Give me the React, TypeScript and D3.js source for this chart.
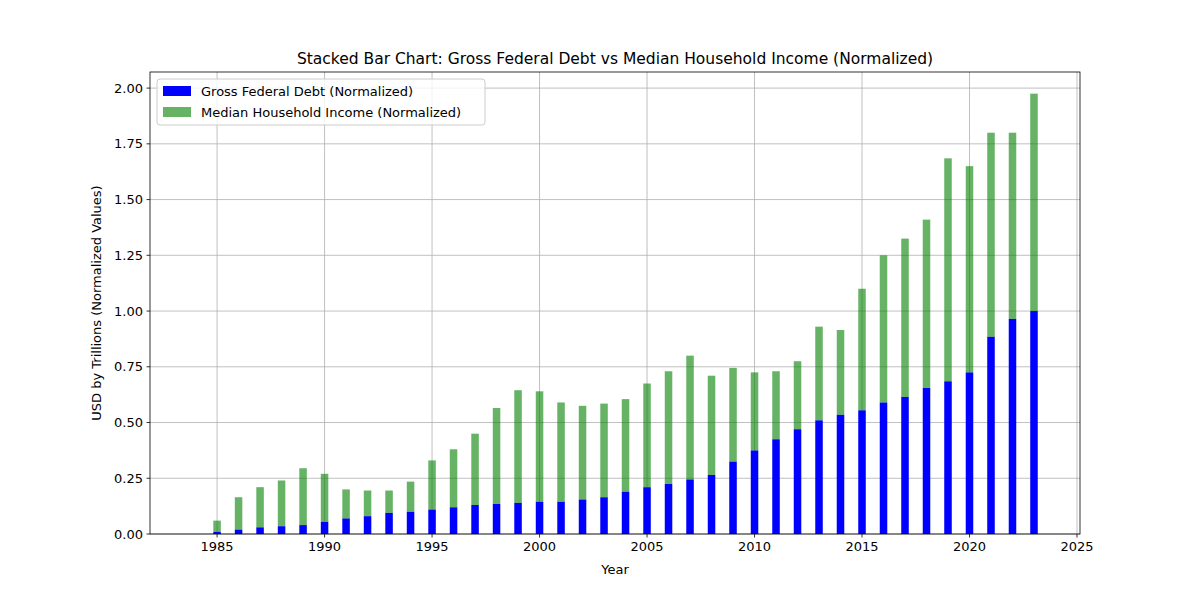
import React from 'react';
import * as d3 from 'd3';

const years = d3.range(1985, 2024);
const debt = [0.01, 0.02, 0.03, 0.035, 0.04, 0.055, 0.07, 0.08, 0.095, 0.1, 0.11, 0.12, 0.13, 0.135, 0.14, 0.145, 0.145, 0.155, 0.165, 0.19, 0.21, 0.225, 0.245, 0.265, 0.325, 0.375, 0.425, 0.47, 0.51, 0.535, 0.555, 0.59, 0.615, 0.655, 0.685, 0.725, 0.885, 0.965, 1.0];
const totals = [0.06, 0.165, 0.21, 0.24, 0.295, 0.27, 0.2, 0.195, 0.195, 0.235, 0.33, 0.38, 0.45, 0.565, 0.645, 0.64, 0.59, 0.575, 0.585, 0.605, 0.675, 0.73, 0.8, 0.71, 0.745, 0.725, 0.73, 0.775, 0.93, 0.915, 1.1, 1.25, 1.325, 1.41, 1.685, 1.65, 1.8, 1.8, 1.975];
const income = totals.map((t, i) => +(t - debt[i]).toFixed(3));
const xTicks = [1985, 1990, 1995, 2000, 2005, 2010, 2015, 2020, 2025];
const yTicks = [0, 0.25, 0.5, 0.75, 1, 1.25, 1.5, 1.75, 2];

export default function App() {
  const W = 1200, H = 600;
  const L = 150, R = 1080, T = 72, B = 534;
  const x = d3.scaleLinear().domain([1981.88, 2025.14]).range([L, R]);
  const y = d3.scaleLinear().domain([0, 2.0722]).range([B, T]);
  const bw = x(1985.35) - x(1985);
  const font = 'DejaVu Sans, sans-serif';
  return (
    <svg width={W} height={H} style={{ position: 'absolute', left: 0, top: 0 }} fontFamily={font}>
      <rect width={W} height={H} fill="white" />
      {xTicks.map(t => <line key={'gx' + t} x1={x(t)} x2={x(t)} y1={T} y2={B} stroke="#b0b0b0" strokeWidth={0.8} />)}
      {yTicks.map(t => <line key={'gy' + t} x1={L} x2={R} y1={y(t)} y2={y(t)} stroke="#b0b0b0" strokeWidth={0.8} />)}
      {years.map((yr, i) => (
        <g key={yr}>
          <rect x={x(yr) - bw / 2} width={bw} y={y(debt[i])} height={y(0) - y(debt[i])} fill="blue" />
          <rect x={x(yr) - bw / 2} width={bw} y={y(debt[i] + income[i])} height={y(debt[i]) - y(debt[i] + income[i])} fill="green" fillOpacity={0.6} />
        </g>
      ))}
      <rect x={L} y={T} width={R - L} height={B - T} fill="none" stroke="black" strokeWidth={0.8} />
      {xTicks.map(t => (
        <g key={'tx' + t}>
          <line x1={x(t)} x2={x(t)} y1={B} y2={B + 3.5} stroke="black" strokeWidth={0.8} />
          <text x={x(t)} y={B + 17} textAnchor="middle" fontSize={13}>{t}</text>
        </g>
      ))}
      {yTicks.map(t => (
        <g key={'ty' + t}>
          <line x1={L - 3.5} x2={L} y1={y(t)} y2={y(t)} stroke="black" strokeWidth={0.8} />
          <text x={L - 7} y={y(t) + 4.5} textAnchor="end" fontSize={13}>{t.toFixed(2)}</text>
        </g>
      ))}
      <text x={(L + R) / 2} y={574} textAnchor="middle" fontSize={13}>Year</text>
      <text transform={`translate(101,${(T + B) / 2}) rotate(-90)`} textAnchor="middle" fontSize={13}>USD by Trillions (Normalized Values)</text>
      <text x={(L + R) / 2} y={64} textAnchor="middle" fontSize={15.5}>Stacked Bar Chart: Gross Federal Debt vs Median Household Income (Normalized)</text>
      <g transform="translate(157,79)">
        <rect width={328} height={46} rx={3} fill="white" fillOpacity={0.8} stroke="#cccccc" />
        <rect x={6} y={7} width={28} height={10} fill="blue" />
        <text x={44} y={17} fontSize={13}>Gross Federal Debt (Normalized)</text>
        <rect x={6} y={28} width={28} height={10} fill="green" fillOpacity={0.6} />
        <text x={44} y={38} fontSize={13}>Median Household Income (Normalized)</text>
      </g>
    </svg>
  );
}
